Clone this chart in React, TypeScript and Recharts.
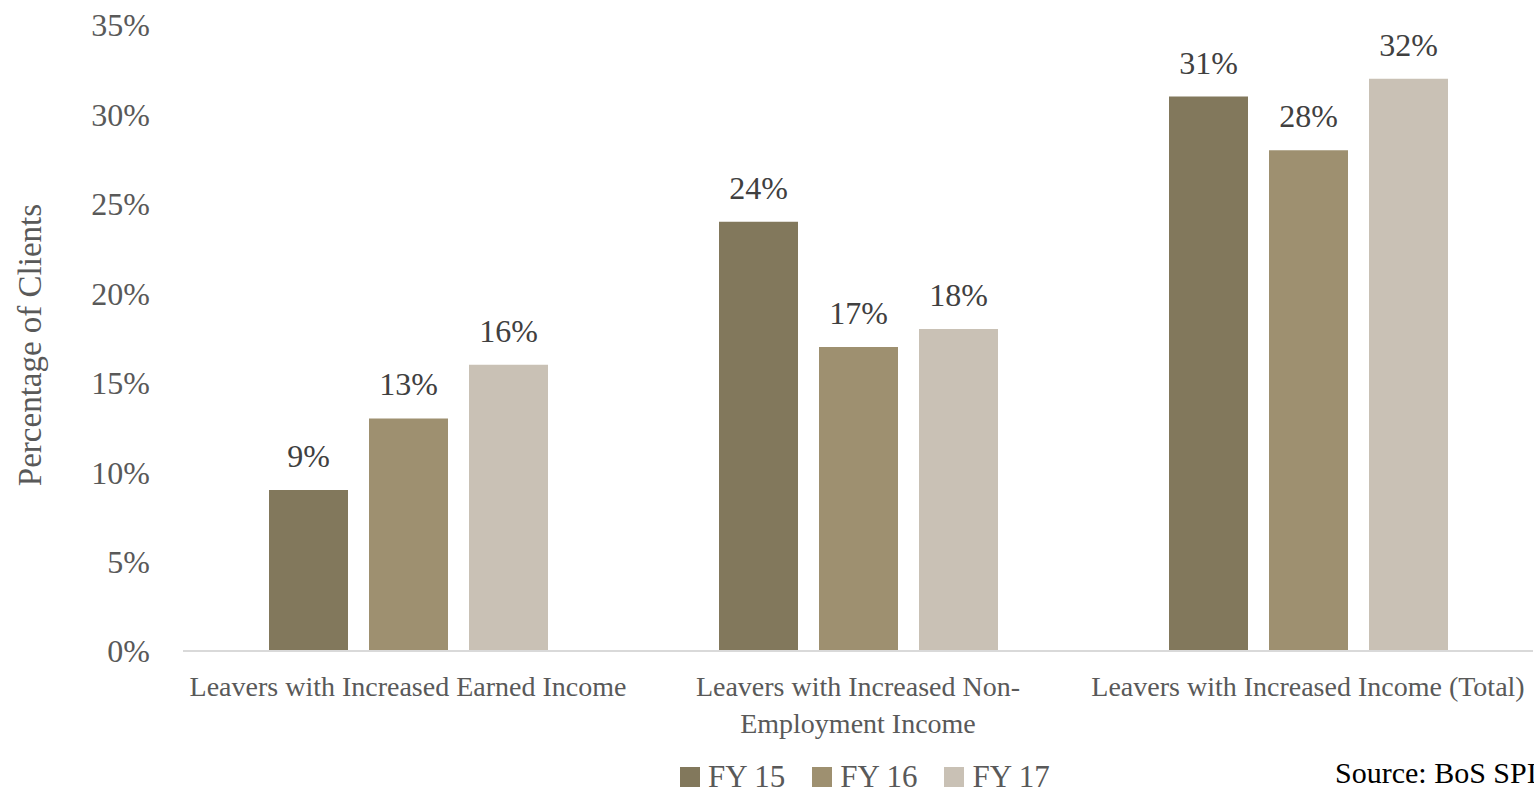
import React from 'react';
import {
  BarChart,
  Bar,
  XAxis,
  YAxis,
  Legend,
  LabelList
} from 'recharts';

const categories = [
  'Leavers with Increased Earned Income',
  'Leavers with Increased Non-\nEmployment Income',
  'Leavers with Increased Income (Total)'
];
const fy15 = [9, 24, 31];
const fy16 = [13, 17, 28];
const fy17 = [16, 18, 32];
const yTicks = [0, 5, 10, 15, 20, 25, 30, 35];

const series = [
  { key: 'fy15', name: 'FY 15', color: '#82785C' },
  { key: 'fy16', name: 'FY 16', color: '#9E9070' },
  { key: 'fy17', name: 'FY 17', color: '#C9C1B5' }
];

const data = categories.map((name, i) => ({
  name,
  fy15: fy15[i],
  fy16: fy16[i],
  fy17: fy17[i]
}));

const FONT = '"Liberation Serif", "Times New Roman", serif';

const CategoryTick = (props: any) => {
  const { x, y, payload } = props;
  const lines = String(payload.value).split('\n');
  return (
    <text textAnchor="middle" fill="#595959" fontSize={28} fontFamily={FONT}>
      {lines.map((line, i) => (
        <tspan key={i} x={x} y={y + 37 + i * 37}>
          {line}
        </tspan>
      ))}
    </text>
  );
};

const YLabel = (props: any) => {
  const { viewBox } = props;
  const cy = viewBox.y + viewBox.height / 2 + 7;
  return (
    <text
      x={41}
      y={cy}
      transform={`rotate(-90, 41, ${cy})`}
      textAnchor="middle"
      fill="#595959"
      fontSize={33}
      fontFamily={FONT}
    >
      Percentage of Clients
    </text>
  );
};

const LegendContent = (props: any) => {
  const { payload } = props;
  return (
    <div style={{ display: 'flex', alignItems: 'center', lineHeight: 1, fontFamily: FONT, fontSize: 31, color: '#595959' }}>
      {(payload || []).map((entry: any, i: number) => (
        <div key={i} style={{ display: 'flex', alignItems: 'center', marginRight: 27 }}>
          <span style={{ width: 20, height: 20, background: entry.color, marginRight: 8 }} />
          <span style={{ whiteSpace: 'nowrap' }}>{entry.value}</span>
        </div>
      ))}
    </div>
  );
};

export default function App() {
  return (
    <div
      style={{
        position: 'absolute',
        left: 0,
        top: 0,
        width: 1534,
        height: 795,
        overflow: 'hidden',
        background: '#fff'
      }}
    >
      <BarChart
        width={1534}
        height={795}
        data={data}
        margin={{ top: 25, right: 1, left: 0, bottom: 0 }}
        barGap={21}
        barSize={79}
      >
        <XAxis
          dataKey="name"
          interval={0}
          height={144}
          tickLine={false}
          axisLine={{ stroke: '#D9D9D9', strokeWidth: 2 }}
          tick={<CategoryTick />}
        />
        <YAxis
          width={183}
          domain={[0, 35]}
          ticks={yTicks}
          axisLine={false}
          tickLine={false}
          tickSize={6}
          tickMargin={27}
          tickFormatter={(v) => `${v}%`}
          tick={{ fill: '#595959', fontSize: 32, fontFamily: FONT }}
          label={<YLabel />}
        />
        <Legend
          layout="horizontal"
          verticalAlign="middle"
          align="center"
          content={<LegendContent />}
          wrapperStyle={{ left: 680, top: 761, width: 'auto', height: 'auto' }}
        />
        {series.map((s) => (
          <Bar key={s.key} dataKey={s.key} name={s.name} fill={s.color} isAnimationActive={false}>
            <LabelList
              dataKey={s.key}
              position="top"
              offset={23}
              formatter={(v: any) => `${v}%`}
              fill="#404040"
              fontSize={32}
              fontFamily={FONT}
            />
          </Bar>
        ))}
      </BarChart>
      <div
        style={{
          position: 'absolute',
          left: 1335,
          top: 758,
          fontFamily: FONT,
          fontSize: 30,
          lineHeight: 1,
          color: '#000',
          whiteSpace: 'nowrap'
        }}
      >
        Source: BoS SPIRS
      </div>
    </div>
  );
}
